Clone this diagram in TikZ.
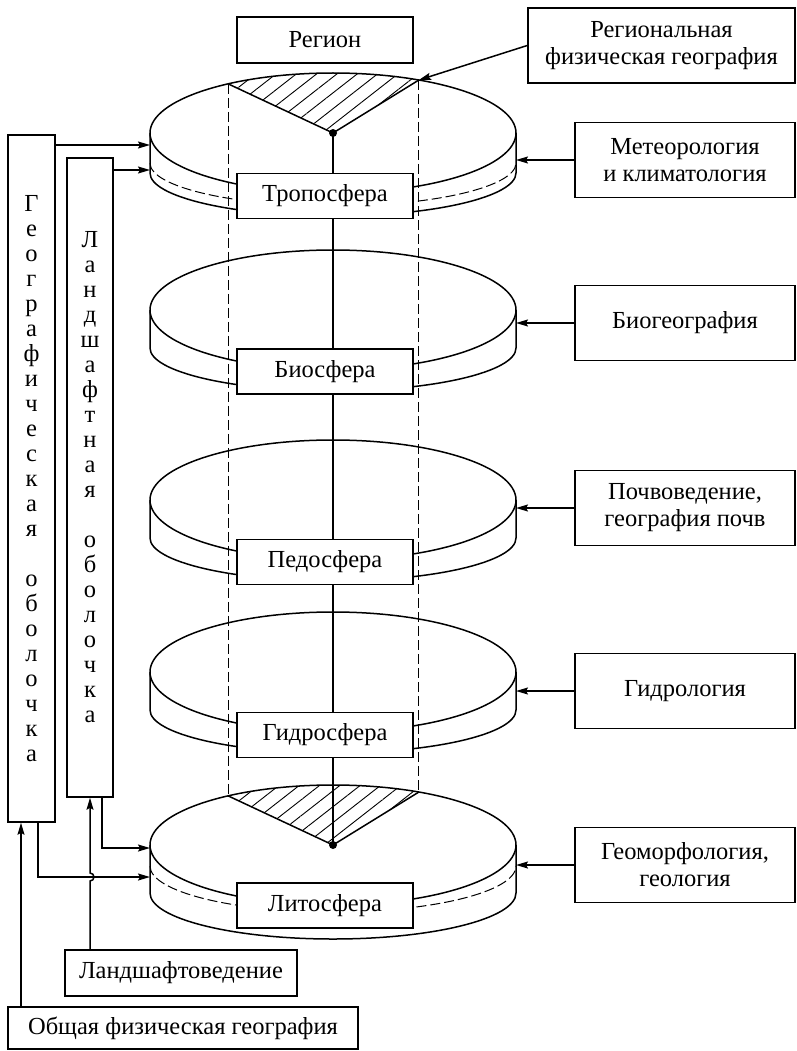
\documentclass[tikz,border=0pt]{standalone}
\usepackage{fontspec}
\setmainfont{Liberation Serif}
\usetikzlibrary{arrows.meta,patterns.meta}
\newcommand{\mydisk}[3]{%
  \path[fill=white,draw,line width=1.5pt] (150,#1) -- (150,#1+#2) arc[start angle=180,end angle=0,x radius=183,y radius=#3] -- (516,#1);
  \filldraw[fill=white,line width=1.5pt] (333,#1) ellipse[x radius=183,y radius=60];
}
\tikzset{
  bx/.style={draw, line width=1.5pt, fill=white, inner sep=0pt, align=center,
    font=\fontsize{24.5}{27}\selectfont},
  vbx/.style={bx, font=\fontsize{24.5}{25}\selectfont},
  arr/.style={line width=1.5pt, -{Stealth[length=12pt,width=7pt,inset=2pt]}},
  ln/.style={line width=1.5pt},
  dsh/.style={line width=1pt, dash pattern=on 10pt off 4pt},
  hatch/.style={pattern={Lines[angle=38,distance=12.5pt,line width=0.9pt]}},
}
\begin{document}
\begin{tikzpicture}[x=1pt,y=-1pt]
\useasboundingbox (0,0) rectangle (796,1051);

% disks
\mydisk{133}{40}{43}
\mydisk{310}{38}{43}
\mydisk{500}{38}{43}
\mydisk{672}{38}{43}
\mydisk{845}{48}{46}
\draw[dsh] (150,163) arc[start angle=180,end angle=0,x radius=183,y radius=43];
\draw[dsh] (150,866) arc[start angle=180,end angle=0,x radius=183,y radius=46];

% key points
\coordinate (c1) at (333,133);
\coordinate (c5) at (333,845);
\coordinate (t1L) at (228,83.8);
\coordinate (t1R) at (418.9,80);
\coordinate (t5L) at (228,795.8);
\coordinate (t5R) at (418.9,792);
\coordinate (dR) at (516,0);
\coordinate (d1a) at (150,145);
\coordinate (d1b) at (150,170);
\coordinate (d5a) at (150,848);
\coordinate (d5b) at (150,877);

% hatched sectors
\path[hatch] (c1) -- (t1L) arc[start angle=235,end angle=298,x radius=183,y radius=60] -- cycle;
\draw[ln] (t1L) -- (c1) -- (t1R);
\path[hatch] (c5) -- (t5L) arc[start angle=235,end angle=298,x radius=183,y radius=60] -- cycle;
\draw[ln] (t5L) -- (c5) -- (t5R);

% dashed column
\draw[dsh] (t1L) -- (t5L);
\draw[dsh] (t1R) -- (t5R);

% axis
\draw[ln] (c1) -- (c5);
\fill (c1) circle[radius=4];
\fill (c5) circle[radius=4];

% central boxes
\node[bx, minimum width=176pt, minimum height=46pt] (reg) at (325,40) {Регион};
\node[bx, minimum width=176pt, minimum height=45pt] (tro) at (325,196) {Тропосфера};
\node[bx, minimum width=176pt, minimum height=45pt] (bio) at (325,371.5) {Биосфера};
\node[bx, minimum width=176pt, minimum height=45pt] (ped) at (325,562) {Педосфера};
\node[bx, minimum width=176pt, minimum height=45pt] (gid) at (325,735) {Гидросфера};
\node[bx, minimum width=176pt, minimum height=45pt] (lit) at (325,905.5) {Литосфера};

% right boxes
\node[bx, minimum width=267pt, minimum height=75pt] (rpg) at (661.5,45.5) {Региональная\\физическая география};
\node[bx, minimum width=220pt, minimum height=75pt] (met) at (685,160) {Метеорология\\и климатология};
\node[bx, minimum width=220pt, minimum height=75pt] (bgg) at (685,323) {Биогеография};
\node[bx, minimum width=220pt, minimum height=75pt] (pch) at (685,508) {Почвоведение,\\география почв};
\node[bx, minimum width=220pt, minimum height=75pt] (hyd) at (685,691) {Гидрология};
\node[bx, minimum width=220pt, minimum height=75pt] (gmf) at (685,865) {Геоморфология,\\геология};

\draw[arr] (rpg.west) -- (t1R);
\draw[arr] (met.west) -- (met.west -| dR);
\draw[arr] (bgg.west) -- (bgg.west -| dR);
\draw[arr] (pch.west) -- (pch.west -| dR);
\draw[arr] (hyd.west) -- (hyd.west -| dR);
\draw[arr] (gmf.west) -- (gmf.west -| dR);

% left boxes
\node[vbx, minimum width=47pt, minimum height=687pt] (geo) at (31.5,478.5)
  {Г\\е\\о\\г\\р\\а\\ф\\и\\ч\\е\\с\\к\\а\\я\\\mbox{}\\о\\б\\о\\л\\о\\ч\\к\\а};
\node[vbx, minimum width=46pt, minimum height=639pt] (lob) at (90,477.5)
  {Л\\а\\н\\д\\ш\\а\\ф\\т\\н\\а\\я\\\mbox{}\\о\\б\\о\\л\\о\\ч\\к\\а};
\node[bx, minimum width=232pt, minimum height=46pt] (lvd) at (181,973) {Ландшафтоведение};
\node[bx, minimum width=350pt, minimum height=42pt] (ofg) at (183,1028) {Общая физическая география};

\draw[arr] (geo.east |- d1a) -- (d1a);
\draw[arr] (lob.east |- d1b) -- (d1b);
\draw[arr] ([xshift=12pt]lob.south) |- (d5a);
\draw[arr] ([xshift=6.5pt]geo.south) |- (d5b);
\draw[arr] (lvd.north -| lob.south) -- (90,881) arc[start angle=90,end angle=-90,radius=4] -- (lob.south);
\draw[arr] ([xshift=-10.5pt]geo.south |- ofg.north) -- ([xshift=-10.5pt]geo.south);
\end{tikzpicture}
\end{document}
